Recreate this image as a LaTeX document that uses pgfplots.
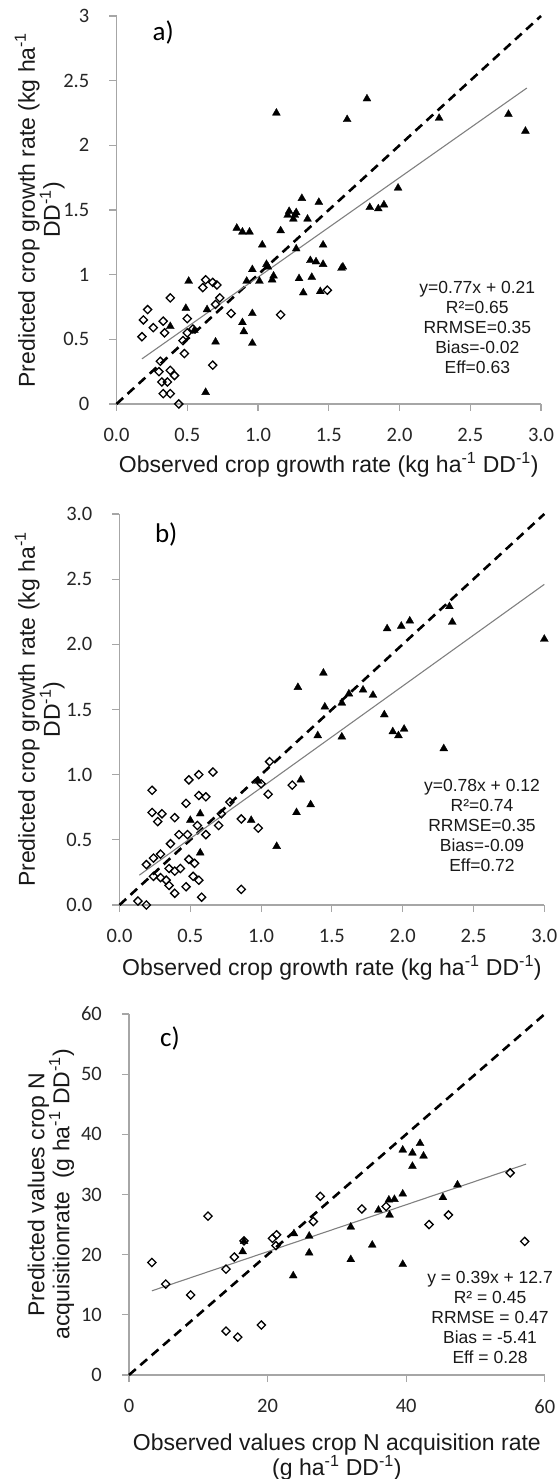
\documentclass[border=0pt]{standalone}
\usepackage{pgfplots}
\pgfplotsset{compat=1.18}
\usepackage{fontspec}
\setmainfont{Carlito}
\newfontfamily\arial{Liberation Sans}

\pgfplotsset{
  base/.style={
    scale only axis,
    axis lines*=left,
    axis line style={draw=black!35, line width=1.1pt},
    tick align=outside,
    major tick length=7pt,
    tick style={draw=black!35, line width=1.1pt},
    every tick label/.append style={font=\fontsize{20.5}{23}\selectfont, text=black!85, inner sep=1pt},
    xticklabel style={yshift=-16pt},
    yticklabel style={xshift=-19pt},
    /pgf/number format/assume math mode=true,
    label style={font=\arial\fontsize{23}{25}\selectfont, text=black!90, inner sep=1pt},
    clip=false,
  },
  tri/.style={only marks, mark=triangle*, mark size=4.6pt, mark options={fill=black, draw=black, line width=0.3pt}},
  dia/.style={only marks, mark=square, mark size=2.9pt, mark options={rotate=45, draw=black, fill=white, line width=1.3pt}},
  oneone/.style={black, line width=2.6pt, dash pattern=on 9pt off 6pt, no marks},
  reg/.style={black!50, line width=1.1pt, no marks},
}
\tikzset{
  stats/.style={align=center, font=\arial\fontsize{17.5}{20}\selectfont, text=black!90},
  panel/.style={font=\fontsize{27}{29}\selectfont},
}

\begin{document}
\begin{tikzpicture}
\useasboundingbox (0,0) rectangle (557pt,1479pt);

% ---------------- panel a ----------------
\begin{axis}[base, at={(116.5pt,1075pt)}, anchor=south west,
  width=424.5pt, height=388pt,
  xmin=0, xmax=3, ymin=0, ymax=3,
  xtick={0,0.5,1,1.5,2,2.5,3}, ytick={0,0.5,1,1.5,2,2.5,3},
  xticklabel style={/pgf/number format/.cd, fixed, fixed zerofill, precision=1},
  xlabel={Observed crop growth rate (kg ha\textsuperscript{-1} DD\textsuperscript{-1})},
  xlabel style={at={(axis description cs:0.5,-0.158)}, anchor=center},
  ylabel={Predicted crop growth rate (kg ha\textsuperscript{-1}\\DD\textsuperscript{-1})},
  ylabel style={align=center, at={(axis description cs:-0.181,0.5)}, anchor=center},
]
\addplot[tri] coordinates {
(1.13,2.25) (1.63,2.20) (1.77,2.36) (2.28,2.21) (2.77,2.24) (2.89,2.11)
(1.99,1.67) (1.79,1.52) (1.85,1.51) (1.89,1.54) (1.31,1.59) (1.43,1.56)
(1.22,1.49) (1.21,1.46) (1.26,1.46) (1.25,1.43) (1.35,1.43) (1.27,1.48)
(0.85,1.36) (0.89,1.33) (0.94,1.33) (1.16,1.34) (1.03,1.23) (1.27,1.20)
(1.46,1.23) (1.06,1.08) (1.07,1.06) (1.11,0.99) (1.10,0.96) (0.96,1.04)
(0.92,0.95) (1.01,0.95) (1.29,0.97) (1.38,0.98) (1.37,1.11) (1.41,1.10)
(1.46,1.08) (1.59,1.05) (1.60,1.06) (1.32,0.86) (1.44,0.87) (0.51,0.95)
(0.49,0.74) (0.64,0.73) (0.96,0.70) (0.89,0.63) (0.90,0.56) (0.70,0.48)
(0.96,0.47) (0.55,0.57) (0.38,0.60) (0.63,0.09)
};
\addplot[dia] coordinates {
(0.18,0.52) (0.19,0.65) (0.22,0.73) (0.26,0.59) (0.33,0.64) (0.34,0.55)
(0.38,0.82) (0.50,0.66) (0.50,0.55) (0.47,0.49) (0.48,0.39) (0.54,0.58)
(0.63,0.96) (0.61,0.90) (0.68,0.94) (0.71,0.92) (0.73,0.82) (0.70,0.77)
(0.81,0.70) (0.68,0.30) (1.16,0.69) (1.49,0.88) (0.31,0.33) (0.30,0.25)
(0.38,0.26) (0.41,0.22) (0.32,0.17) (0.36,0.17) (0.33,0.08) (0.38,0.08)
(0.44,0.00)
};
\addplot[oneone] coordinates {(0,0) (3,3)};
\addplot[reg] coordinates {(0.18,0.349) (2.90,2.443)};
\node[panel] at (axis cs:0.33,2.87) {a)};
\node[stats] at (axis cs:2.55,0.59) {y=0.77x + 0.21\\R²=0.65\\RRMSE=0.35\\Bias=-0.02\\Eff=0.63};
\end{axis}

% ---------------- panel b ----------------
\begin{axis}[base, at={(119.5pt,574pt)}, anchor=south west,
  width=424.8pt, height=391pt,
  xmin=0, xmax=3, ymin=0, ymax=3,
  xtick={0,0.5,1,1.5,2,2.5,3}, ytick={0,0.5,1,1.5,2,2.5,3},
  xticklabel style={/pgf/number format/.cd, fixed, fixed zerofill, precision=1},
  yticklabel style={/pgf/number format/.cd, fixed, fixed zerofill, precision=1},
  xlabel={Observed crop growth rate (kg ha\textsuperscript{-1} DD\textsuperscript{-1})},
  xlabel style={at={(axis description cs:0.5,-0.160)}, anchor=center},
  ylabel={Predicted crop growth rate (kg ha\textsuperscript{-1}\\DD\textsuperscript{-1})},
  ylabel style={align=center, at={(axis description cs:-0.188,0.5)}, anchor=center},
]
\addplot[tri] coordinates {
(3.00,2.04) (2.33,2.29) (2.35,2.17) (2.05,2.18) (1.99,2.14) (1.89,2.12)
(1.26,1.67) (1.44,1.78) (1.45,1.52) (1.57,1.55) (1.62,1.62) (1.72,1.65)
(1.79,1.61) (1.87,1.46) (1.93,1.33) (1.97,1.30) (2.01,1.35) (2.29,1.20)
(1.40,1.30) (1.57,1.29) (1.28,0.96) (1.25,0.71) (1.35,0.77) (1.11,0.45)
(0.93,0.65) (0.57,0.70) (0.50,0.65) (0.57,0.40) (0.98,0.95)
};
\addplot[dia] coordinates {
(0.23,0.88) (0.23,0.71) (0.30,0.70) (0.27,0.64) (0.39,0.67) (0.47,0.78)
(0.49,0.96) (0.56,1.00) (0.66,1.02) (0.56,0.84) (0.61,0.83) (0.55,0.61)
(0.61,0.54) (0.48,0.54) (0.42,0.54) (0.36,0.47) (0.29,0.39) (0.24,0.36)
(0.19,0.31) (0.24,0.22) (0.29,0.21) (0.33,0.19) (0.35,0.28) (0.39,0.26)
(0.43,0.28) (0.35,0.15) (0.39,0.09) (0.47,0.14) (0.49,0.35) (0.53,0.32)
(0.52,0.22) (0.56,0.19) (0.58,0.06) (0.13,0.03) (0.19,0.00) (0.72,0.70)
(0.70,0.61) (0.78,0.79) (0.86,0.66) (0.98,0.59) (1.00,0.93) (1.05,0.85)
(1.06,1.10) (1.22,0.92) (0.86,0.12)
};
\addplot[oneone] coordinates {(0,0) (3,3)};
\addplot[reg] coordinates {(0.14,0.229) (3.0,2.46)};
\node[panel] at (axis cs:0.33,2.84) {b)};
\node[stats] at (axis cs:2.56,0.61) {y=0.78x + 0.12\\R²=0.74\\RRMSE=0.35\\Bias=-0.09\\Eff=0.72};
\end{axis}

% ---------------- panel c ----------------
\begin{axis}[base, at={(129pt,104pt)}, anchor=south west,
  width=415.8pt, height=361pt,
  xmin=0, xmax=60, ymin=0, ymax=60,
  xtick={0,20,40,60}, ytick={0,10,20,30,40,50,60},
  xlabel={Observed values crop N acquisition rate\\(g ha\textsuperscript{-1} DD\textsuperscript{-1})},
  xlabel style={align=center, at={(axis description cs:0.5,-0.227)}, anchor=center},
  ylabel={Predicted values crop N\\acquisitionrate\ \ (g ha\textsuperscript{-1} DD\textsuperscript{-1})},
  ylabel style={align=center, at={(axis description cs:-0.188,0.5)}, anchor=center},
]
\addplot[tri] coordinates {
(39.5,37.4) (40.9,36.9) (42.0,38.5) (42.5,36.4) (40.9,34.7) (47.4,31.6)
(45.3,29.5) (39.5,30.1) (38.3,29.2) (37.5,29.1) (37.6,26.6) (36.0,27.4)
(32.0,24.6) (26.0,23.1) (26.0,20.3) (23.8,23.5) (23.7,16.5) (32.0,19.2)
(35.1,21.6) (39.5,18.4) (16.4,20.5) (16.6,22.2)
};
\addplot[dia] coordinates {
(3.3,18.7) (5.3,15.1) (8.9,13.3) (11.4,26.4) (14.0,17.6) (15.2,19.6)
(16.6,22.3) (14.0,7.3) (15.7,6.3) (19.1,8.3) (20.7,22.7) (21.3,23.3)
(21.2,21.5) (26.6,25.5) (27.6,29.7) (33.6,27.6) (37.1,28.0) (43.3,25.0)
(46.1,26.6) (55.0,33.6) (57.1,22.2)
};
\addplot[oneone] coordinates {(0,0) (60,60)};
\addplot[reg] coordinates {(3.3,13.99) (57.3,35.05)};
\node[panel] at (axis cs:5.9,56) {c)};
\node[stats] at (axis cs:52.1,9.55) {y = 0.39x + 12.7\\R² = 0.45\\RRMSE = 0.47\\Bias = -5.41\\Eff = 0.28};
\end{axis}
\end{tikzpicture}
\end{document}
